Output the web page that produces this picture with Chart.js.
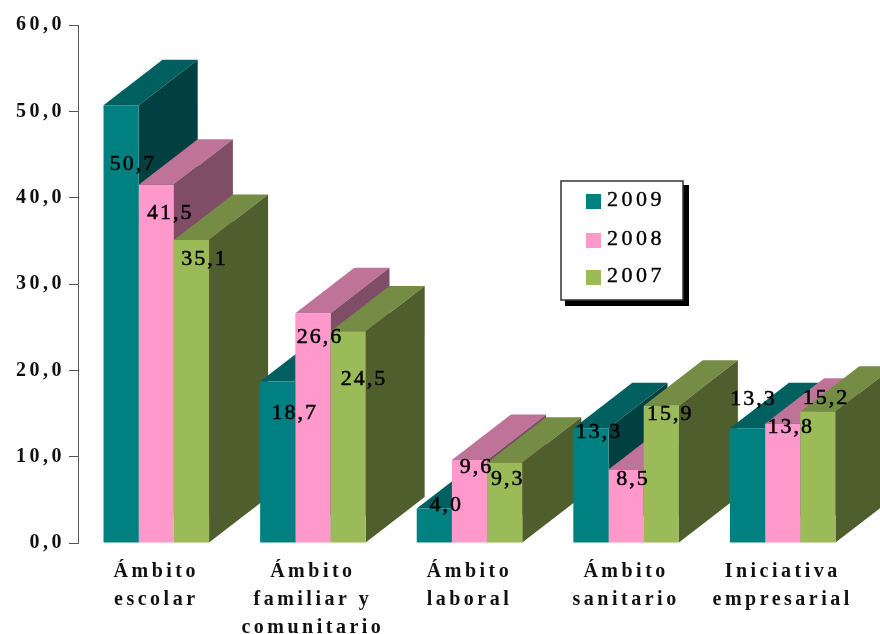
<!DOCTYPE html>
<html>
<head>
<meta charset="utf-8">
<style>
  html, body { margin: 0; padding: 0; background: #fff; }
  canvas { display: block; }
</style>
<script src="https://cdn.jsdelivr.net/npm/chart.js@4"></script>
</head>
<body>
<canvas id="chart" width="880" height="634"></canvas>
<script>
var categories = [
    ['Ámbito', 'escolar'],
    ['Ámbito', 'familiar y', 'comunitario'],
    ['Ámbito', 'laboral'],
    ['Ámbito', 'sanitario'],
    ['Iniciativa', 'empresarial']
];
var values2009 = [50.7, 18.7, 4.0, 13.3, 13.3];
var values2008 = [41.5, 26.6, 9.6, 8.5, 13.8];
var values2007 = [35.1, 24.5, 9.3, 15.9, 15.2];
var yTicks = ['0,0', '10,0', '20,0', '30,0', '40,0', '50,0', '60,0'];

// hand placed value labels, offset from the top centre of each bar
var offsets2009 = [[12, 59], [17, 32], [12, -3], [8, 4], [6, -29]];
var offsets2008 = [[14, 29], [7, 24], [7, 7], [7, 10], [8, 3]];
var offsets2007 = [[13, 19], [16, 48], [3, 17], [9, 8], [8, -14]];

var serif = '"Liberation Serif", serif';
var depthX = 59;
var depthY = 45.5;

function fmt(v) {
    return v.toFixed(1).replace('.', ',');
}

function spaced(ctx, px) {
    if ('letterSpacing' in ctx) ctx.letterSpacing = px;
}

var bars3d = {
    id: 'bars3d',
    beforeUpdate: function(chart) { spaced(chart.ctx, '3.5px'); },
    beforeDraw: function(chart) { spaced(chart.ctx, '3.5px'); },
    beforeDatasetsDraw: function(chart) {
        var ctx = chart.ctx;
        for (var g = 0; g < categories.length; g++) {
            chart.data.datasets.forEach(function(ds, i) {
                var bar = chart.getDatasetMeta(i).data[g];
                var l = bar.x - bar.width / 2, r = bar.x + bar.width / 2;
                // top face
                ctx.fillStyle = ds.topColor;
                ctx.beginPath();
                ctx.moveTo(l, bar.y);
                ctx.lineTo(l + depthX, bar.y - depthY);
                ctx.lineTo(r + depthX, bar.y - depthY);
                ctx.lineTo(r, bar.y);
                ctx.closePath();
                ctx.fill();
                // side face
                ctx.fillStyle = ds.sideColor;
                ctx.beginPath();
                ctx.moveTo(r, bar.y);
                ctx.lineTo(r + depthX, bar.y - depthY);
                ctx.lineTo(r + depthX, bar.base - depthY);
                ctx.lineTo(r, bar.base);
                ctx.closePath();
                ctx.fill();
            });
        }
    },
    afterDatasetsDraw: function(chart) {
        var ctx = chart.ctx;
        ctx.save();
        ctx.font = '22px ' + serif;
        ctx.fillStyle = '#000';
        ctx.strokeStyle = '#000';
        ctx.lineWidth = 0.5;
        ctx.textAlign = 'center';
        ctx.textBaseline = 'middle';
        spaced(ctx, '2px');
        chart.data.datasets.forEach(function(ds, i) {
            chart.getDatasetMeta(i).data.forEach(function(bar, g) {
                var tx = bar.x + ds.labelOffsets[g][0], ty = bar.y + ds.labelOffsets[g][1];
                ctx.fillText(fmt(ds.data[g]), tx, ty);
                ctx.strokeText(fmt(ds.data[g]), tx, ty);
            });
        });
        ctx.restore();
    },
    afterDraw: function(chart) {
        // boxed legend with the hard shadow
        var ctx = chart.ctx;
        ctx.save();
        ctx.fillStyle = '#000';
        ctx.fillRect(565, 185, 124, 121);
        ctx.fillStyle = '#fff';
        ctx.fillRect(561, 181, 122, 119);
        ctx.strokeStyle = '#333';
        ctx.lineWidth = 1.5;
        ctx.strokeRect(561, 181, 122, 119);
        ctx.font = '22px ' + serif;
        ctx.textAlign = 'left';
        ctx.textBaseline = 'middle';
        ctx.strokeStyle = '#000';
        ctx.lineWidth = 0.4;
        spaced(ctx, '3.5px');
        var rows = [200, 239, 276];
        chart.data.datasets.forEach(function(ds, i) {
            ctx.fillStyle = ds.backgroundColor;
            ctx.fillRect(586, rows[i] - 6, 15, 15);
            ctx.fillStyle = '#000';
            ctx.fillText(ds.label, 607, rows[i]);
            ctx.strokeText(ds.label, 607, rows[i]);
        });
        ctx.restore();
    }
};

var barCtx = document.getElementById('chart').getContext('2d');
var myBarChart = new Chart(barCtx, {
    type: 'bar',
    data: {
        labels: categories,
        datasets: [{
            label: '2009',
            data: values2009,
            backgroundColor: '#008080',
            topColor: '#006060',
            sideColor: '#004040',
            labelOffsets: offsets2009
        }, {
            label: '2008',
            data: values2008,
            backgroundColor: '#FF99CC',
            topColor: '#BF7399',
            sideColor: '#804D66',
            labelOffsets: offsets2008
        }, {
            label: '2007',
            data: values2007,
            backgroundColor: '#9BBB59',
            topColor: '#748C43',
            sideColor: '#4F5E2D',
            labelOffsets: offsets2007
        }]
    },
    plugins: [bars3d],
    options: {
        responsive: false,
        animation: false,
        categoryPercentage: 0.674,
        barPercentage: 1,
        layout: { padding: { left: 0, right: 19, top: 25, bottom: 0 } },
        plugins: {
            legend: { display: false },
            title: { display: false },
            tooltip: { enabled: false }
        },
        scales: {
            x: {
                afterFit: function(axis) { axis.height = 91; },
                grid: { display: false, drawTicks: false },
                border: { display: false },
                ticks: {
                    autoSkip: false,
                    maxRotation: 0,
                    padding: 15,
                    color: '#111',
                    font: { family: serif, size: 20, weight: 'bold', lineHeight: 1.4 }
                }
            },
            y: {
                min: 0,
                max: 60,
                afterFit: function(axis) { axis.width = 78; },
                grid: { drawOnChartArea: false, color: '#555', tickLength: 9 },
                border: { color: '#555' },
                ticks: {
                    stepSize: 10,
                    padding: 4,
                    color: '#111',
                    font: { family: serif, size: 20, weight: 'bold' },
                    callback: function(v, i) { return yTicks[i]; }
                }
            }
        }
    }
});
</script>
</body>
</html>
